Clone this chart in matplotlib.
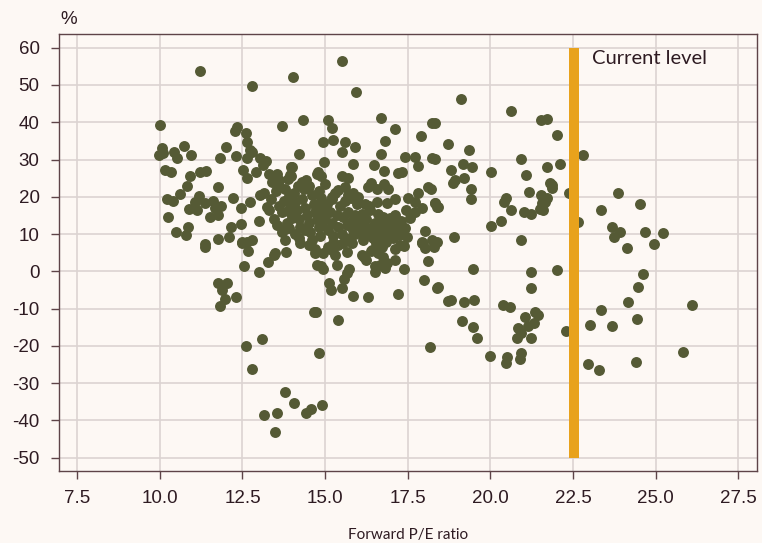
import matplotlib.pyplot as plt

# forward P/E vs subsequent return (%), grouped by where they sit on the chart
low_pe = [
    (11.2, 53.7), (12.8, 49.8), (10.02, 39.3), (12.33, 38.8), (12.28, 37.6), (12.6, 37.0),
    (12.64, 34.8), (10.06, 33.2), (9.98, 31.2), (10.09, 31.7), (10.73, 33.7), (10.42, 32.1),
    (10.51, 30.3), (10.95, 31.2), (12.0, 33.4), (11.82, 30.5), (12.3, 30.9), (12.63, 30.3),
    (12.74, 32.6), (12.8, 31.9), (13.04, 30.5), (13.2, 29.6), (13.13, 28.5), (10.16, 27.1),
    (10.34, 26.6), (10.9, 25.5), (11.2, 26.6), (11.39, 27.0), (10.82, 23.0), (11.75, 22.7),
    (12.53, 27.2), (12.63, 25.1), (12.91, 26.6), (10.62, 20.7), (10.21, 19.4), (10.41, 19.0),
    (11.17, 20.3), (11.07, 18.7), (11.37, 18.2), (11.62, 18.9), (11.72, 17.3), (11.67, 16.9),
    (11.85, 17.6), (11.77, 15.1), (11.52, 14.6), (10.87, 16.7), (11.12, 16.5), (12.2, 19.6),
    (12.44, 16.9), (12.74, 18.7), (13.03, 20.5), (13.14, 20.9), (13.25, 17.3), (13.0, 13.6),
    (10.24, 14.5), (10.84, 12.0), (10.8, 9.7), (10.49, 10.6), (12.16, 11.9), (12.45, 12.8),
    (11.75, 8.6), (12.08, 9.3), (11.37, 7.3), (12.48, 8.0), (12.78, 8.4), (11.37, 6.6),
    (12.48, 7.5), (12.63, 8.0), (12.68, 5.5), (12.54, 1.3), (13.01, -0.1), (11.77, -3.2),
    (12.04, -3.1), (11.87, -5.0), (11.98, -7.5), (11.83, -9.2), (12.3, -6.8), (13.09, -18.2),
    (12.6, -20.0), (12.79, -26.1),
]

deep_losses = [
    (13.8, -32.5), (14.07, -35.4), (13.16, -38.5), (13.54, -38.1), (13.49, -43.2),
    (14.42, -37.9), (14.58, -37.0), (14.91, -36.0), (14.8, -21.9), (14.65, -11.0),
    (14.73, -11.0), (15.38, -13.1),
]

mid_pe = [
    (14.02, 52.1), (13.69, 38.9), (13.97, 28.0), (13.31, 26.2), (13.54, 26.0), (13.59, 24.5),
    (13.89, 24.8), (13.96, 25.7), (13.79, 11.4), (13.79, 8.4), (13.99, 14.2), (13.89, 16.2),
    (13.81, 5.1), (13.44, 4.4), (13.49, 4.8), (13.27, 2.5), (13.44, 14.0),
    (15.5, 56.4), (15.94, 48.0), (14.34, 40.7), (15.08, 40.6), (15.2, 38.5), (16.68, 41.2),
    (17.1, 38.1), (18.24, 39.9), (17.9, 36.4), (14.93, 34.8), (15.23, 35.2), (15.6, 34.6),
    (15.89, 33.4), (15.5, 32.1), (16.8, 35.0), (14.21, 31.6), (14.97, 29.4), (15.84, 28.7),
    (16.7, 31.4), (17.4, 30.8), (17.72, 30.8), (17.8, 28.3), (18.22, 30.3), (16.48, 28.5),
    (16.77, 26.9), (17.19, 26.5), (17.33, 26.6), (13.99, 28.1), (13.94, 25.8), (14.77, 26.6),
    (14.88, 25.7), (14.75, 26.0), (15.7, 25.0), (14.42, 24.5), (14.18, 23.0), (14.49, 22.3),
    (16.38, 23.8), (16.31, 22.7), (16.58, 22.1), (16.79, 23.3), (16.91, 22.1), (18.12, 22.7),
    (18.19, 22.1), (17.8, 20.9), (15.4, 21.8), (14.87, 19.8), (15.2, 20.0), (15.84, 20.9),
    (15.78, 19.6), (18.33, 18.4), (18.38, 17.3), (17.5, 19.8), (17.72, 18.7), (17.92, 16.9),
    (16.33, 17.6), (16.58, 18.7), (16.86, 18.2), (17.12, 19.4), (18.02, 10.9), (18.22, 8.4),
    (18.38, 8.0), (17.92, 8.0), (17.47, 9.3), (17.22, 9.7), (17.42, 11.5), (17.14, 13.3),
    (16.96, 14.2), (17.57, 14.2), (17.72, 16.0),
    (14.24, 7.7), (14.7, 5.0), (14.95, 4.8), (15.2, 5.7), (15.65, 5.3), (15.25, 7.5),
    (15.55, 7.7), (16.41, 5.7), (16.61, 4.8), (16.76, 3.9), (16.86, 2.2), (16.56, 7.5),
    (16.71, 6.6), (17.92, 7.5), (18.02, 6.2), (18.3, 6.4), (17.39, 6.8), (17.1, 3.0),
    (18.1, 2.8), (16.24, 3.0), (16.18, 3.9), (16.51, 1.3), (16.66, 1.7), (16.81, 0.8),
    (14.87, 1.3), (14.95, 0.5), (14.75, 1.7), (15.37, 1.6), (15.56, -2.1), (15.65, -0.4),
    (15.73, 0.5), (16.51, -0.3), (17.39, 0.6), (18.0, -2.3), (18.38, -4.4), (15.13, -3.2),
    (15.19, -5.0), (15.52, -4.6), (15.84, -6.6), (16.31, -7.0), (17.2, -6.1), (18.18, -20.4),
]

core = [
    (13.35, 19.5), (13.5, 21.5), (13.6, 17.5), (13.7, 15.8), (13.75, 19.0), (13.8, 22.0),
    (13.85, 13.0), (13.9, 20.2), (13.95, 17.0), (14.0, 15.0), (13.6, 23.0), (13.4, 24.0),
    (13.3, 16.5), (13.55, 12.5), (13.7, 10.5), (13.9, 11.5),
    (14.05, 21.0), (14.1, 18.5), (14.15, 16.5), (14.2, 14.0), (14.25, 12.0), (14.3, 19.5),
    (14.35, 22.0), (14.4, 17.0), (14.45, 15.0), (14.5, 13.0), (14.55, 10.5), (14.6, 20.5),
    (14.65, 18.0), (14.7, 16.0), (14.75, 14.0), (14.8, 12.0), (14.85, 9.5), (14.9, 17.5),
    (14.95, 15.5), (14.2, 9.0), (14.4, 11.0), (14.6, 8.5), (14.3, 24.0), (14.5, 23.0),
    (14.8, 21.5), (14.1, 10.0), (14.7, 6.0), (14.9, 12.5), (14.5, 7.0), (14.0, 19.0),
    (15.0, 14.0), (15.05, 18.0), (15.1, 11.0), (15.15, 16.0), (15.2, 13.0), (15.25, 9.5),
    (15.3, 21.0), (15.35, 15.0), (15.4, 12.0), (15.45, 17.5), (15.5, 10.0), (15.55, 14.5),
    (15.6, 19.0), (15.65, 12.5), (15.7, 16.0), (15.75, 9.0), (15.8, 13.5), (15.85, 11.0),
    (15.9, 15.0), (15.95, 18.0), (15.1, 6.5), (15.4, 7.0), (15.6, 22.5), (15.0, 23.5),
    (15.8, 7.5), (15.3, 4.5), (15.2, 19.5), (15.5, 25.5), (15.7, 20.5), (15.9, 10.0),
    (16.0, 13.0), (16.05, 10.5), (16.1, 15.5), (16.15, 8.5), (16.2, 12.0), (16.25, 14.0),
    (16.3, 10.0), (16.35, 16.5), (16.4, 11.5), (16.45, 9.0), (16.5, 13.0), (16.55, 7.5),
    (16.6, 10.5), (16.65, 12.5), (16.7, 9.0), (16.75, 14.5), (16.8, 11.0), (16.85, 8.0),
    (16.9, 13.5), (16.95, 10.0), (16.2, 18.0), (16.0, 20.0), (16.4, 5.5), (16.6, 15.5),
    (16.1, 4.5),
    (17.0, 12.0), (17.05, 9.0), (17.1, 15.0), (17.2, 11.0), (17.25, 7.0), (17.3, 13.5),
    (17.35, 10.0), (17.45, 16.5), (17.1, 6.0),
]

high_pe = [
    (19.11, 46.2), (20.61, 43.0), (21.52, 40.5), (21.72, 40.9), (22.01, 36.6), (18.33, 39.9),
    (18.71, 34.1), (19.36, 32.6), (18.33, 30.1), (18.81, 27.2), (19.16, 28.7), (19.45, 27.9),
    (19.21, 25.1), (18.88, 23.6), (18.93, 24.5), (20.01, 26.6), (20.92, 30.1), (21.71, 28.0),
    (22.11, 28.8), (21.06, 25.8), (19.4, 22.2), (19.41, 19.4), (21.8, 23.6), (21.85, 22.3),
    (21.87, 23.2), (21.17, 21.2), (20.47, 19.8), (20.41, 18.5), (20.62, 16.5), (21.0, 16.0),
    (21.22, 15.3), (21.53, 20.5), (21.7, 19.8), (21.55, 18.2), (21.6, 16.5), (21.5, 16.7),
    (21.65, 18.5), (22.36, 21.1), (18.33, 18.2), (18.41, 17.3), (20.31, 13.6), (20.01, 12.2),
    (18.91, 9.1), (20.92, 8.3),
    (19.48, 0.5), (21.22, -0.1), (22.01, 0.3), (21.22, -4.5), (18.41, -4.3), (18.73, -8.0),
    (18.81, -7.7), (19.21, -8.2), (19.51, -7.7), (20.39, -9.0), (20.59, -9.5), (19.13, -13.2),
    (19.48, -15.0), (19.59, -18.0), (21.05, -12.2), (21.35, -10.8), (21.45, -11.7),
    (21.33, -13.8), (21.12, -14.7), (20.83, -15.3), (20.93, -16.5), (20.8, -18.0),
    (21.22, -18.0), (22.28, -16.0), (19.98, -22.6), (20.49, -22.9), (20.47, -24.7),
    (20.93, -22.0), (20.88, -23.6),
]

above_current = [
    (22.81, 31.2), (23.87, 21.1), (23.34, 16.4), (24.53, 18.1), (22.66, 13.3), (23.67, 11.8),
    (23.92, 10.6), (23.75, 9.1), (24.68, 10.5), (25.21, 10.2), (24.12, 6.3), (24.96, 7.2),
    (24.6, -0.6), (24.46, -4.2), (24.16, -8.2), (23.34, -10.5), (26.1, -9.0), (23.02, -14.3),
    (23.68, -14.7), (24.44, -12.9), (25.81, -21.7), (22.94, -24.9), (23.29, -26.5),
    (24.39, -24.3),
]

current_pe = 22.52
x_ticks = [7.5, 10.0, 12.5, 15.0, 17.5, 20.0, 22.5, 25.0, 27.5]
y_ticks = list(range(-50, 61, 10))

bg = '#fdf8f4'
ink = '#2e1b22'
spine_col = '#5e4448'
dot_col = '#555a35'
grid_col = '#dcd3d2'

points = low_pe + deep_losses + mid_pe + core + high_pe + above_current
pe = [p[0] for p in points]
ret = [p[1] for p in points]

plt.rcParams['font.family'] = ['Liberation Sans', 'DejaVu Sans']
plt.rcParams['axes.unicode_minus'] = False

fig = plt.figure(figsize=(7.62, 5.43), dpi=100, facecolor=bg)
ax = fig.add_axes([0.0774, 0.1335, 0.916, 0.804])
ax.set_facecolor(bg)

ax.scatter(pe, ret, s=62, color=dot_col, linewidths=0, zorder=3)
ax.vlines(current_pe, -50, 60, colors='#e8a21c', linewidth=7.2, zorder=4)
ax.text(23.07, 57.2, 'Current level', fontsize=14.5, color=ink, va='center', ha='left',
        family=['Lato', 'DejaVu Sans'])

ax.set_xlim(6.95, 28.06)
ax.set_ylim(-53.45, 63.7)
ax.set_xticks(x_ticks)
ax.set_xticklabels([f'{t:.1f}' for t in x_ticks])
ax.set_yticks(y_ticks)
ax.grid(True, color=grid_col, linewidth=1.2)
ax.set_axisbelow(True)

for s in ax.spines.values():
    s.set_color(spine_col)
    s.set_linewidth(1.0)
ax.tick_params(axis='both', length=6, width=1.0, color=spine_col, labelcolor=ink,
               labelsize=13.5, pad=8)

ax.set_xlabel('Forward P/E ratio', fontsize=11, color=ink, labelpad=15,
              family=['Lato', 'DejaVu Sans'])
fig.text(60 / 762, 1 - 19 / 543, '%', fontsize=13.5, color=ink, ha='left', va='center')

fig.savefig('out.png', dpi=100, facecolor=bg)
